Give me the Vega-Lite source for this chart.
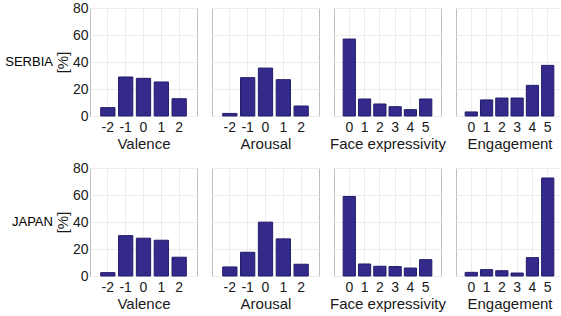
{
  "$schema": "https://vega.github.io/schema/vega-lite/v6.json",
  "padding": {"left": 5, "top": 0, "right": 0, "bottom": 0},
  "background": "white",
  "data": {"values": [
    {"country": "SERBIA", "var": "Valence", "cat": -2, "pct": 6.2},
    {"country": "SERBIA", "var": "Valence", "cat": -1, "pct": 28.9},
    {"country": "SERBIA", "var": "Valence", "cat": 0, "pct": 27.9},
    {"country": "SERBIA", "var": "Valence", "cat": 1, "pct": 25.2},
    {"country": "SERBIA", "var": "Valence", "cat": 2, "pct": 12.8},
    {"country": "SERBIA", "var": "Arousal", "cat": -2, "pct": 1.9},
    {"country": "SERBIA", "var": "Arousal", "cat": -1, "pct": 28.4},
    {"country": "SERBIA", "var": "Arousal", "cat": 0, "pct": 35.5},
    {"country": "SERBIA", "var": "Arousal", "cat": 1, "pct": 26.9},
    {"country": "SERBIA", "var": "Arousal", "cat": 2, "pct": 7.4},
    {"country": "SERBIA", "var": "Face", "cat": 0, "pct": 57.0},
    {"country": "SERBIA", "var": "Face", "cat": 1, "pct": 12.6},
    {"country": "SERBIA", "var": "Face", "cat": 2, "pct": 8.9},
    {"country": "SERBIA", "var": "Face", "cat": 3, "pct": 6.9},
    {"country": "SERBIA", "var": "Face", "cat": 4, "pct": 4.7},
    {"country": "SERBIA", "var": "Face", "cat": 5, "pct": 12.6},
    {"country": "SERBIA", "var": "Engagement", "cat": 0, "pct": 3.0},
    {"country": "SERBIA", "var": "Engagement", "cat": 1, "pct": 11.9},
    {"country": "SERBIA", "var": "Engagement", "cat": 2, "pct": 13.3},
    {"country": "SERBIA", "var": "Engagement", "cat": 3, "pct": 13.3},
    {"country": "SERBIA", "var": "Engagement", "cat": 4, "pct": 22.7},
    {"country": "SERBIA", "var": "Engagement", "cat": 5, "pct": 37.5},
    {"country": "JAPAN", "var": "Valence", "cat": -2, "pct": 2.5},
    {"country": "JAPAN", "var": "Valence", "cat": -1, "pct": 29.9},
    {"country": "JAPAN", "var": "Valence", "cat": 0, "pct": 28.0},
    {"country": "JAPAN", "var": "Valence", "cat": 1, "pct": 26.5},
    {"country": "JAPAN", "var": "Valence", "cat": 2, "pct": 13.9},
    {"country": "JAPAN", "var": "Arousal", "cat": -2, "pct": 6.7},
    {"country": "JAPAN", "var": "Arousal", "cat": -1, "pct": 17.6},
    {"country": "JAPAN", "var": "Arousal", "cat": 0, "pct": 39.9},
    {"country": "JAPAN", "var": "Arousal", "cat": 1, "pct": 27.5},
    {"country": "JAPAN", "var": "Arousal", "cat": 2, "pct": 8.7},
    {"country": "JAPAN", "var": "Face", "cat": 0, "pct": 58.9},
    {"country": "JAPAN", "var": "Face", "cat": 1, "pct": 8.9},
    {"country": "JAPAN", "var": "Face", "cat": 2, "pct": 7.2},
    {"country": "JAPAN", "var": "Face", "cat": 3, "pct": 7.0},
    {"country": "JAPAN", "var": "Face", "cat": 4, "pct": 5.9},
    {"country": "JAPAN", "var": "Face", "cat": 5, "pct": 12.1},
    {"country": "JAPAN", "var": "Engagement", "cat": 0, "pct": 2.7},
    {"country": "JAPAN", "var": "Engagement", "cat": 1, "pct": 4.7},
    {"country": "JAPAN", "var": "Engagement", "cat": 2, "pct": 3.9},
    {"country": "JAPAN", "var": "Engagement", "cat": 3, "pct": 2.2},
    {"country": "JAPAN", "var": "Engagement", "cat": 4, "pct": 13.6},
    {"country": "JAPAN", "var": "Engagement", "cat": 5, "pct": 72.6}
  ]},
  "spacing": 8,
  "resolve": {"scale": {"x": "independent", "y": "independent"}},
  "vconcat": [
    {
      "title": {"text": "SERBIA", "orient": "left", "angle": 0, "anchor": "middle", "align": "left", "fontSize": 13, "fontWeight": "normal", "font": "Liberation Sans", "color": "#000000", "offset": 0, "dy": -20, "dx": -2},
      "spacing": 15,
      "bounds": "flush",
      "resolve": {"scale": {"x": "independent", "y": "independent"}},
      "hconcat": [
        {"width": 107, "height": 108,
         "transform": [{"filter": "datum.country === 'SERBIA' && datum.var === 'Valence'"}],
         "mark": {"type": "bar"},
         "encoding": {
           "x": {"field": "cat", "type": "ordinal", "scale": {"domain": [-2, -1, 0, 1, 2], "paddingInner": 0.2, "paddingOuter": 0.6}, "axis": {"title": "Valence"}},
           "y": {"field": "pct", "type": "quantitative", "scale": {"domain": [0, 80]}, "axis": {"title": "[%]"}}
         }},
        {"width": 107, "height": 108,
         "transform": [{"filter": "datum.country === 'SERBIA' && datum.var === 'Arousal'"}],
         "mark": {"type": "bar"},
         "encoding": {
           "x": {"field": "cat", "type": "ordinal", "scale": {"domain": [-2, -1, 0, 1, 2], "paddingInner": 0.2, "paddingOuter": 0.6}, "axis": {"title": "Arousal"}},
           "y": {"field": "pct", "type": "quantitative", "scale": {"domain": [0, 80]}, "axis": {"title": null, "labels": false}}
         }},
        {"width": 107, "height": 108,
         "transform": [{"filter": "datum.country === 'SERBIA' && datum.var === 'Face'"}],
         "mark": {"type": "bar"},
         "encoding": {
           "x": {"field": "cat", "type": "ordinal", "scale": {"domain": [0, 1, 2, 3, 4, 5], "paddingInner": 0.2, "paddingOuter": 0.6}, "axis": {"title": "Face expressivity"}},
           "y": {"field": "pct", "type": "quantitative", "scale": {"domain": [0, 80]}, "axis": {"title": null, "labels": false}}
         }},
        {"width": 107, "height": 108,
         "transform": [{"filter": "datum.country === 'SERBIA' && datum.var === 'Engagement'"}],
         "mark": {"type": "bar"},
         "encoding": {
           "x": {"field": "cat", "type": "ordinal", "scale": {"domain": [0, 1, 2, 3, 4, 5], "paddingInner": 0.2, "paddingOuter": 0.6}, "axis": {"title": "Engagement"}},
           "y": {"field": "pct", "type": "quantitative", "scale": {"domain": [0, 80]}, "axis": {"title": null, "labels": false}}
         }}
      ]
    },
    {
      "title": {"text": "JAPAN", "orient": "left", "angle": 0, "anchor": "middle", "align": "left", "fontSize": 13, "fontWeight": "normal", "font": "Liberation Sans", "color": "#000000", "offset": 0, "dy": -20, "dx": -2},
      "spacing": 15,
      "bounds": "flush",
      "resolve": {"scale": {"x": "independent", "y": "independent"}},
      "hconcat": [
        {"width": 107, "height": 108,
         "transform": [{"filter": "datum.country === 'JAPAN' && datum.var === 'Valence'"}],
         "mark": {"type": "bar"},
         "encoding": {
           "x": {"field": "cat", "type": "ordinal", "scale": {"domain": [-2, -1, 0, 1, 2], "paddingInner": 0.2, "paddingOuter": 0.6}, "axis": {"title": "Valence"}},
           "y": {"field": "pct", "type": "quantitative", "scale": {"domain": [0, 80]}, "axis": {"title": "[%]"}}
         }},
        {"width": 107, "height": 108,
         "transform": [{"filter": "datum.country === 'JAPAN' && datum.var === 'Arousal'"}],
         "mark": {"type": "bar"},
         "encoding": {
           "x": {"field": "cat", "type": "ordinal", "scale": {"domain": [-2, -1, 0, 1, 2], "paddingInner": 0.2, "paddingOuter": 0.6}, "axis": {"title": "Arousal"}},
           "y": {"field": "pct", "type": "quantitative", "scale": {"domain": [0, 80]}, "axis": {"title": null, "labels": false}}
         }},
        {"width": 107, "height": 108,
         "transform": [{"filter": "datum.country === 'JAPAN' && datum.var === 'Face'"}],
         "mark": {"type": "bar"},
         "encoding": {
           "x": {"field": "cat", "type": "ordinal", "scale": {"domain": [0, 1, 2, 3, 4, 5], "paddingInner": 0.2, "paddingOuter": 0.6}, "axis": {"title": "Face expressivity"}},
           "y": {"field": "pct", "type": "quantitative", "scale": {"domain": [0, 80]}, "axis": {"title": null, "labels": false}}
         }},
        {"width": 107, "height": 108,
         "transform": [{"filter": "datum.country === 'JAPAN' && datum.var === 'Engagement'"}],
         "mark": {"type": "bar"},
         "encoding": {
           "x": {"field": "cat", "type": "ordinal", "scale": {"domain": [0, 1, 2, 3, 4, 5], "paddingInner": 0.2, "paddingOuter": 0.6}, "axis": {"title": "Engagement"}},
           "y": {"field": "pct", "type": "quantitative", "scale": {"domain": [0, 80]}, "axis": {"title": null, "labels": false}}
         }}
      ]
    }
  ],
  "config": {
    "font": "Liberation Sans",
    "view": {"stroke": "#c0c0c0", "strokeWidth": 1},
    "bar": {"color": "#332a8c", "stroke": "#231c6a", "strokeWidth": 1},
    "axis": {
      "labelFont": "Liberation Sans",
      "labelFontSize": 14,
      "labelColor": "#1a1a1a",
      "titleFont": "Liberation Sans",
      "titleFontSize": 15,
      "titleFontWeight": "normal",
      "titleColor": "#1a1a1a",
      "ticks": false,
      "domain": false,
      "grid": true,
      "gridColor": "#ececec",
      "gridWidth": 1
    },
    "axisX": {"labelAngle": 0, "labelPadding": 4, "titlePadding": 2, "bandPosition": 0.5},
    "axisY": {"values": [0, 20, 40, 60, 80], "labelPadding": 2, "titlePadding": 2}
  }
}
